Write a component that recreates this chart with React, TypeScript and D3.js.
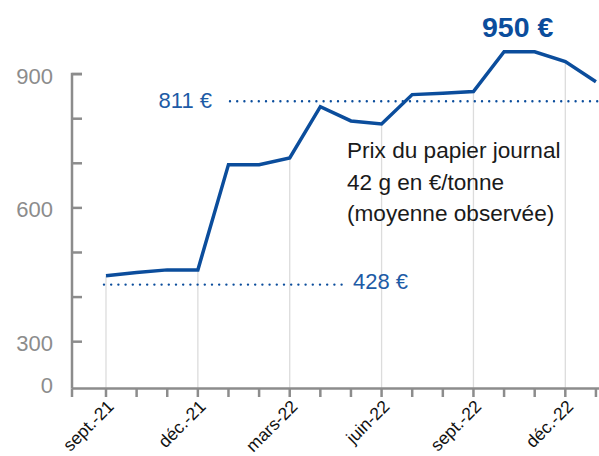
import React from 'react';
import * as d3 from 'd3';

// months from sept-21 to janv-23
const months = [
  'sept.-21', 'oct.-21', 'nov.-21', 'déc.-21', 'janv.-22', 'févr.-22', 'mars-22', 'avr.-22',
  'mai-22', 'juin-22', 'juil.-22', 'août-22', 'sept.-22', 'oct.-22', 'nov.-22', 'déc.-22', 'janv.-23',
];
const prices = [448, 455, 461, 461, 697, 697, 712, 827, 795, 788, 854, 857, 861, 950, 950, 928, 883];
const labelEvery = 3; // sept, déc, mars, juin...
const yTickValues = [300, 400, 500, 600, 700, 800, 900];
const yTickLabels = ['300', '600', '900'];
const refLevels = [839, 428];
const refLabels = ['811 €', '428 €'];
const peakLabel = '950 €';
const noteLines = ['Prix du papier journal', '42 g en €/tonne', '(moyenne observée)'];

const W = 599;
const H = 456;
const FONT = '"Liberation Sans", Arial, Helvetica, sans-serif';
const BLUE = '#0b4d9c';
const TEXT_BLUE = '#1d5ba6';
const AXIS = '#8c8c8c';

const App = () => {
  const x = d3.scaleLinear().domain([-1.11, 16.1]).range([72, W]);
  const y = d3.scaleLinear().domain([195, 950]).range([388.5, 51.8]);
  const base = y(195);

  const line = d3.line<number>()
    .x((d, i) => x(i))
    .y(d => y(d));

  const quarterIdx = months.map((m, i) => i).filter(i => i % labelEvery === 0 && i < months.length - 1);

  return (
    <svg width={W} height={H} style={{ position: 'absolute', left: 0, top: 0, fontFamily: FONT }}>
      {/* drop lines under the quarterly points */}
      {quarterIdx.map(i => (
        <line key={'g' + i} x1={x(i)} x2={x(i)} y1={y(prices[i])} y2={base} stroke="#dcdcdc" strokeWidth={1.3} />
      ))}

      {/* note */}
      {noteLines.map((t, i) => (
        <text key={'n' + i} x={347} y={158 + i * 31.5} fontSize={22.6} fill="#1a1a1a">{t}</text>
      ))}

      {/* reference levels */}
      <line x1={230} x2={W} y1={y(refLevels[0])} y2={y(refLevels[0])}
        stroke={BLUE} strokeWidth={2.4} strokeLinecap="round" strokeDasharray="0 7.2" />
      <text x={212} y={y(refLevels[0]) + 7} textAnchor="end" fontSize={22} fill={TEXT_BLUE}>{refLabels[0]}</text>
      <line x1={x(0) - 2} x2={342} y1={y(refLevels[1])} y2={y(refLevels[1])}
        stroke={BLUE} strokeWidth={2.4} strokeLinecap="round" strokeDasharray="0 7.2" />
      <text x={353} y={y(refLevels[1]) + 4.5} fontSize={22} fill={TEXT_BLUE}>{refLabels[1]}</text>

      {/* y axis */}
      <path d={`M82,${y(900)}H72V${base}`} fill="none" stroke={AXIS} strokeWidth={2.5} />
      {yTickValues.map(v => (
        <line key={'yt' + v} x1={72} x2={82} y1={y(v)} y2={y(v)} stroke={AXIS} strokeWidth={2.5} />
      ))}
      {yTickLabels.map(l => (
        <text key={'yl' + l} x={53} y={y(+l) + 9.5} textAnchor="end" fontSize={22} fill={AXIS}>{l}</text>
      ))}
      <text x={53} y={base + 4.5} textAnchor="end" fontSize={22} fill={AXIS}>0</text>

      {/* x axis */}
      <line x1={72} x2={W} y1={base} y2={base} stroke={AXIS} strokeWidth={2.5} />
      <line x1={72} x2={72} y1={base} y2={base + 8.5} stroke={AXIS} strokeWidth={2.5} />
      {months.map((m, i) => (
        <line key={'xt' + i} x1={x(i)} x2={x(i)} y1={base} y2={base + 8.5} stroke={AXIS} strokeWidth={2.5} />
      ))}
      {months.map((m, i) => (i % labelEvery === 0 && i < months.length - 1 ? (
        <text key={'xl' + i} transform={`translate(${x(i) + 9},${base + 19}) rotate(-45)`}
          textAnchor="end" fontSize={17.5} fill="#111">{m}</text>
      ) : null))}

      {/* price line */}
      <path d={line(prices) || ''} fill="none" stroke={BLUE} strokeWidth={3.5} strokeLinejoin="miter" />

      <text x={482} y={37} fontSize={28.5} fontWeight="bold" fill={BLUE}>{peakLabel}</text>
    </svg>
  );
};

export default App;
